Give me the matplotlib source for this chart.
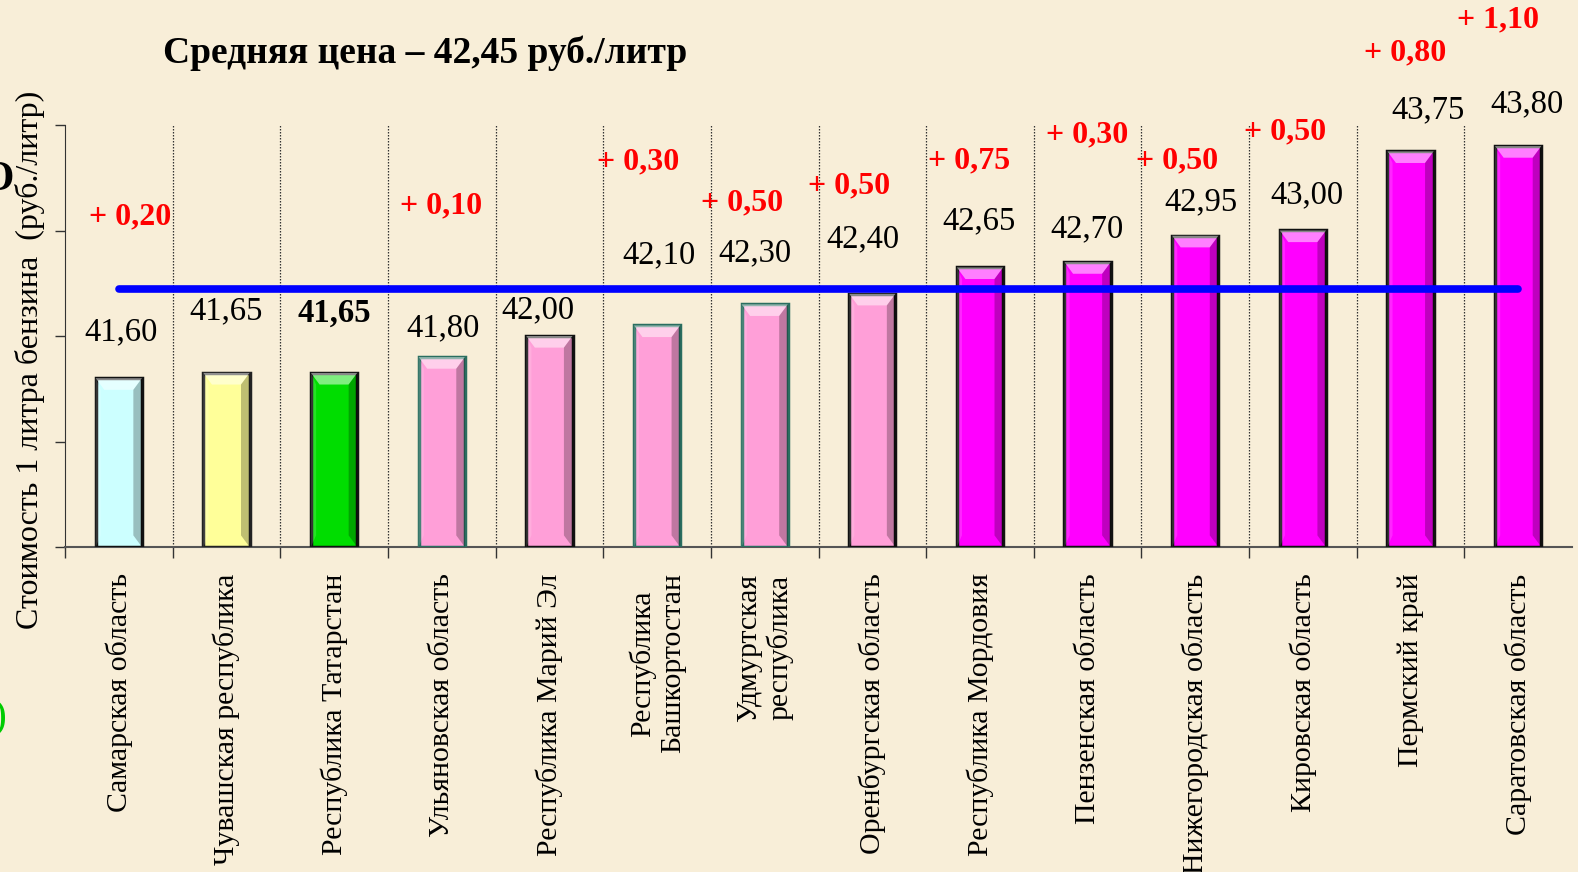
import matplotlib.pyplot as plt
from matplotlib.patches import Polygon

# Данные: цена 1 литра бензина по регионам
regiones = ['Самарская область', 'Чувашская республика', 'Республика Татарстан',
            'Ульяновская область', 'Республика Марий Эл', 'Республика\nБашкортостан',
            'Удмуртская\nреспублика', 'Оренбургская область', 'Республика Мордовия',
            'Пензенская область', 'Нижегородская область', 'Кировская область',
            'Пермский край', 'Саратовская область']
precios = [41.60, 41.65, 41.65, 41.80, 42.00, 42.10, 42.30, 42.40,
           42.65, 42.70, 42.95, 43.00, 43.75, 43.80]
aumentos = [0.20, None, None, 0.10, None, 0.30, 0.50, 0.50,
            0.75, 0.30, 0.50, 0.50, 0.80, 1.10]
promedio = 42.45

# colores de las barras
colores = ['#CCFFFF', '#FFFF99', '#00DD00', '#FF9FD8', '#FF9FD8', '#FF9FD8', '#FF9FD8',
           '#FF9FD8', '#FF00FF', '#FF00FF', '#FF00FF', '#FF00FF', '#FF00FF', '#FF00FF']
bordes = ['#111111', '#222222', '#111111', '#2A6E60', '#111111', '#2A6E60', '#2A6E60',
          '#111111', '#111111', '#111111', '#111111', '#111111', '#111111', '#111111']

# posiciones de las etiquetas (en unidades de datos)
etiq_x = [0.02, 0.0, 0.0, 0.01, -0.11, 0.02, -0.09, -0.09, -0.01, -0.01, 0.05, 0.04, 0.16, 0.08]
etiq_y = [42.04, 42.24, 42.22, 42.08, 42.25, 42.77, 42.79, 42.92,
          43.09, 43.01, 43.27, 43.34, 44.14, 44.20]
aum_x = [0.105, None, None, -0.01, None, -0.18, -0.21, -0.22,
         -0.10, 0.0, -0.17, -0.17, -0.05, -0.19]
aum_y = [43.13, None, None, 43.23, None, 43.65, 43.26, 43.42,
         43.66, 43.91, 43.66, 43.93, 44.68, 45.0]

fondo = '#F8EED8'
fuente = 'Liberation Serif'

fig = plt.figure(figsize=(15.78, 8.72), dpi=100, facecolor=fondo)
ax = fig.add_axes([65 / 1578, (872 - 547) / 872, (1572 - 65) / 1578, (547 - 125) / 872])
ax.set_facecolor(fondo)
ax.patch.set_alpha(0)

x = list(range(len(precios)))
ancho = 0.43
ax.bar(x, [p - 40 for p in precios], bottom=40, width=ancho, color=colores,
       edgecolor=bordes, linewidth=2.5, zorder=3)

# efecto de bisel en las barras
bh = 0.11
bw = 0.08
for i, p in enumerate(precios):
    x0, x1 = i - ancho / 2, i + ancho / 2
    ax.add_patch(Polygon([[x0, p], [x1, p], [x1 - bw, p - bh], [x0 + bw, p - bh]],
                         closed=True, facecolor='white', alpha=0.5, lw=0, zorder=4))
    ax.add_patch(Polygon([[x1, p], [x1, 40], [x1 - bw, 40 + bh], [x1 - bw, p - bh]],
                         closed=True, facecolor='black', alpha=0.25, lw=0, zorder=4))
    ax.add_patch(Polygon([[x0, p], [x0, 40], [x0 + bw * 0.6, 40 + bh], [x0 + bw * 0.6, p - bh]],
                         closed=True, facecolor='white', alpha=0.15, lw=0, zorder=4))

# lineas verticales punteadas
ax.vlines([i + 0.5 for i in range(len(precios) - 1)], 40, 44, colors='#333333',
          linestyles=(0, (1.2, 1.2)), linewidth=0.9, zorder=1)

# linea del promedio
ax.plot([0, len(precios) - 1], [promedio, promedio], color='#0000FF', linewidth=5.5,
        solid_capstyle='round', zorder=5)

# etiquetas de valores
for i, p in enumerate(precios):
    peso = 'bold' if i == 2 else 'normal'
    ax.text(i + etiq_x[i], etiq_y[i], f'{p:.2f}'.replace('.', ','), ha='center', va='center',
            fontsize=23.5, family=fuente, fontweight=peso, color='black', zorder=6)

for i, a in enumerate(aumentos):
    if a is None:
        continue
    ax.text(i + aum_x[i], aum_y[i], f'+ {a:.2f}'.replace('.', ','), ha='center', va='center',
            fontsize=23, family=fuente, fontweight='bold', color='#FF0000', zorder=6,
            clip_on=False)

ax.set_xlim(-0.5, len(precios) - 0.5)
ax.set_ylim(40, 44)
ax.set_yticks([40, 41, 42, 43, 44])
ax.set_yticklabels([])
ax.set_xticks([i - 0.5 for i in range(len(precios))], minor=True)
ax.set_xticks(x)
ax.set_xticklabels(regiones, rotation=90, fontsize=21.5, family=fuente, va='top',
                   ha='center', multialignment='center')
ax.tick_params(axis='x', which='major', length=0, pad=19)
ax.tick_params(axis='x', which='minor', length=8, width=1, color='#333333', direction='out')
ax.tick_params(axis='y', length=7, width=1, color='#333333', direction='out')

for lado in ['top', 'right']:
    ax.spines[lado].set_visible(False)
ax.spines['left'].set_color('#333333')
ax.spines['bottom'].set_color('#555555')
ax.spines['bottom'].set_linewidth(1.5)

ax.set_ylabel('Стоимость 1 литра бензина  (руб./литр)', fontsize=23, family=fuente)
ax.yaxis.set_label_coords(-20 / 1507, 0.443)

fig.text(163 / 1578, 1 - 53 / 872, 'Средняя цена – 42,45 руб./литр', fontsize=27,
         fontweight='bold', family=fuente, ha='left', va='center')

# restos de otros elementos del borde izquierdo
fig.text(-18 / 1578, 1 - 180 / 872, 'О', fontsize=30, fontweight='bold', family=fuente,
         ha='left', va='center')
fig.text(-7 / 1578, 1 - 718 / 872, ')', fontsize=30, color='#00CC00', family=fuente,
         ha='left', va='center')

fig.savefig('out.png', dpi=100, facecolor=fondo)
